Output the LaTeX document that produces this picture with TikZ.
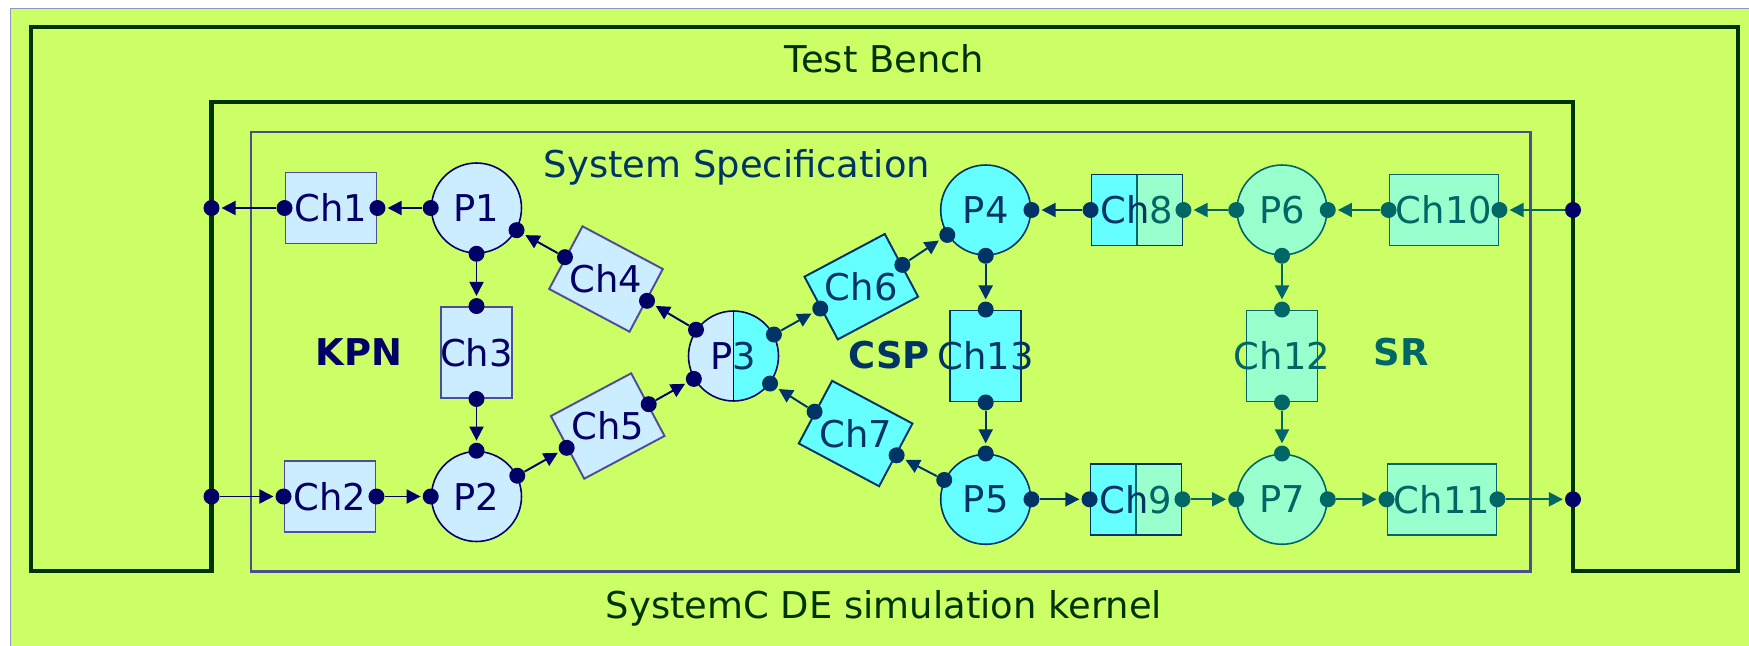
\documentclass[tikz,border=0pt]{standalone}
\usepackage{fontspec}
\setmainfont{DejaVu Sans}
\usetikzlibrary{arrows.meta}
\definecolor{benchlime}{HTML}{CCFF66}
\definecolor{tbgreen}{HTML}{003300}
\definecolor{specline}{HTML}{4D4D8F}
\definecolor{kpnfill}{HTML}{CCECFF}
\definecolor{kpnline}{HTML}{000066}
\definecolor{kpnbox}{HTML}{4D4D99}
\definecolor{cspfill}{HTML}{66FFFF}
\definecolor{cspline}{HTML}{003366}
\definecolor{srfill}{HTML}{99FFCC}
\definecolor{srline}{HTML}{006666}
\newcommand{\diafont}{\fontsize{21}{25}\selectfont}

\begin{document}
\begin{tikzpicture}[x=0.02cm, y=-0.02cm,
    every node/.style={font=\diafont},
    kproc/.style={circle, draw=kpnline, fill=kpnfill, text=kpnline, line width=0.9pt, minimum size=1.8cm, inner sep=0},
    cproc/.style={circle, draw=cspline, fill=cspfill, text=cspline, line width=0.9pt, minimum size=1.8cm, inner sep=0},
    sproc/.style={circle, draw=srline, fill=srfill, text=srline, line width=0.9pt, minimum size=1.8cm, inner sep=0},
    kch/.style={rectangle, draw=kpnbox, fill=kpnfill, line width=1.1pt, minimum width=1.82cm, minimum height=1.42cm, inner sep=0, label={[text=kpnline]center:#1}},
    cch/.style={rectangle, draw=cspline, fill=cspfill, line width=1.1pt, minimum width=1.82cm, minimum height=1.42cm, inner sep=0, label={[text=cspline]center:#1}},
    sch/.style={rectangle, draw=srline, fill=srfill, line width=1.1pt, minimum width=1.82cm, minimum height=1.42cm, inner sep=0, label={[text=srline]center:#1}},
    tallbox/.style={minimum width=1.42cm, minimum height=1.82cm},
    widebox/.style={minimum width=2.18cm},
    srhalf/.style={path picture={
        \fill[srfill] (path picture bounding box.north) rectangle (path picture bounding box.south east);
        \draw[srline, line width=1.1pt] (path picture bounding box.north) -- (path picture bounding box.south);}},
    csphalf/.style={path picture={
        \fill[cspfill] (path picture bounding box.north) rectangle (path picture bounding box.south east);
        \draw[kpnline, line width=0.9pt] (path picture bounding box.north) -- (path picture bounding box.south);}},
    kdot/.style={circle, fill=kpnline, minimum size=0.32cm, inner sep=0},
    cdot/.style={circle, fill=cspline, minimum size=0.32cm, inner sep=0},
    sdot/.style={circle, fill=srline, minimum size=0.32cm, inner sep=0},
    kar/.style={draw=kpnline, line width=1.1pt, -{Triangle[length=8pt, width=8pt]}, shorten >=1pt},
    car/.style={draw=cspline, line width=1.1pt, -{Triangle[length=8pt, width=8pt]}, shorten >=1pt},
    sar/.style={draw=srline, line width=1.1pt, -{Triangle[length=8pt, width=8pt]}, shorten >=1pt}]
    \useasboundingbox (0,0) rectangle (1749,646);
    % Background and frames
    \fill[white] (0,0) rectangle (1749,646);
    \filldraw[fill=benchlime, draw=kpnbox!60, line width=0.6pt] (10.7,8.3) rectangle (1752,650);
    \draw[tbgreen, line width=2.3pt] (31,27) -- (1738,27) -- (1738,571) -- (1573,571) -- (1573,102)
        -- (211.5,102) -- (211.5,571) -- (31,571) -- cycle;
    \draw[specline, line width=1.7pt] (251,132) rectangle (1530,571);
    % Titles
    \node[text=tbgreen] (bench) at (884.5,59) {Test Bench};
    \node[text=cspline] (spec) at (737,167) {System Specification};
    \node[text=tbgreen] (kernel) at (884,608) {SystemC DE simulation kernel};
    \node[text=kpnline, font=\diafont\bfseries] (kpn) at (359,352) {KPN};
    \node[text=cspline, font=\diafont\bfseries] (csp) at (889,355) {CSP};
    \node[text=srline, font=\diafont\bfseries] (sr) at (1401,352) {SR};
    % Processes
    \node[kproc] (P1) at (476.5,208) {P1};
    \node[kproc] (P2) at (476.5,496.5) {P2};
    \node[kproc, csphalf] (P3) at (733.5,356) {P\textcolor{cspline}{3}};
    \node[cproc] (P4) at (985.7,210) {P4};
    \node[cproc] (P5) at (985.7,499.3) {P5};
    \node[sproc] (P6) at (1282,210) {P6};
    \node[sproc] (P7) at (1282,499.3) {P7};
    % Channels
    \node[kch=Ch1] (Ch1) at (331,208) {};
    \node[kch=Ch2] (Ch2) at (330,496.5) {};
    \node[kch=Ch3, tallbox] (Ch3) at (476.5,352.5) {};
    \node[kch=Ch4, rotate=-28] (Ch4) at (606,279) {};
    \node[kch=Ch5, rotate=28] (Ch5) at (607.7,426) {};
    \node[cch=Ch6, rotate=28] (Ch6) at (861.3,286.7) {};
    \node[cch=Ch7, rotate=-28] (Ch7) at (855.6,433.5) {};
    \node[cch={Ch\textcolor{srline}{8}}, srhalf] (Ch8) at (1137,210) {};
    \node[cch={Ch\textcolor{srline}{9}}, srhalf] (Ch9) at (1136,499.3) {};
    \node[sch=Ch10, widebox] (Ch10) at (1444,210) {};
    \node[sch=Ch11, widebox] (Ch11) at (1442,499.3) {};
    \node[sch=Ch12, tallbox] (Ch12) at (1282,356) {};
    \node[cch=Ch13, tallbox] (Ch13) at (985.7,356) {};
    % Ports
    \node[kdot] (tbl1) at (211.5,208) {};
    \node[kdot] (tbl2) at (211.5,496.5) {};
    \node[kdot] (tbr1) at (1573,210) {};
    \node[kdot] (tbr2) at (1573,499.3) {};
    \node[kdot] (p1w) at (P1.west) {};
    \node[kdot] (p1s) at (P1.south) {};
    \node[kdot] (p1se) at (P1.-29) {};
    \node[kdot] (p2n) at (P2.north) {};
    \node[kdot] (p2w) at (P2.west) {};
    \node[kdot] (p2ne) at (P2.27) {};
    \node[kdot] (p3nw) at (P3.145) {};
    \node[kdot] (p3sw) at (P3.210) {};
    \node[cdot] (p3ne) at (P3.28) {};
    \node[cdot] (p3se) at (P3.-37) {};
    \node[cdot] (p4e) at (P4.east) {};
    \node[cdot] (p4s) at (P4.south) {};
    \node[cdot] (p4sw) at (P4.213) {};
    \node[cdot] (p5n) at (P5.north) {};
    \node[cdot] (p5e) at (P5.east) {};
    \node[cdot] (p5nw) at (P5.155) {};
    \node[sdot] (p6w) at (P6.west) {};
    \node[sdot] (p6e) at (P6.east) {};
    \node[sdot] (p6s) at (P6.south) {};
    \node[sdot] (p7n) at (P7.north) {};
    \node[sdot] (p7w) at (P7.west) {};
    \node[sdot] (p7e) at (P7.east) {};
    \node[kdot] (ch1w) at (Ch1.west) {};
    \node[kdot] (ch1e) at (Ch1.east) {};
    \node[kdot] (ch2w) at (Ch2.west) {};
    \node[kdot] (ch2e) at (Ch2.east) {};
    \node[kdot] (ch3n) at (Ch3.north) {};
    \node[kdot] (ch3s) at (Ch3.south) {};
    \node[kdot] (ch4w) at (Ch4.west) {};
    \node[kdot] (ch4e) at (Ch4.east) {};
    \node[kdot] (ch5w) at (Ch5.west) {};
    \node[kdot] (ch5e) at (Ch5.east) {};
    \node[cdot] (ch6w) at (Ch6.west) {};
    \node[cdot] (ch6e) at (Ch6.east) {};
    \node[cdot] (ch7w) at (Ch7.west) {};
    \node[cdot] (ch7e) at (Ch7.east) {};
    \node[cdot] (ch8w) at (Ch8.west) {};
    \node[sdot] (ch8e) at (Ch8.east) {};
    \node[cdot] (ch9w) at (Ch9.west) {};
    \node[sdot] (ch9e) at (Ch9.east) {};
    \node[sdot] (ch10w) at (Ch10.west) {};
    \node[sdot] (ch10e) at (Ch10.east) {};
    \node[sdot] (ch11w) at (Ch11.west) {};
    \node[sdot] (ch11e) at (Ch11.east) {};
    \node[sdot] (ch12n) at (Ch12.north) {};
    \node[sdot] (ch12s) at (Ch12.south) {};
    \node[cdot] (ch13n) at (Ch13.north) {};
    \node[cdot] (ch13s) at (Ch13.south) {};
    % KPN connections
    \draw[kar] (p1w) -- (ch1e);
    \draw[kar] (ch1w) -- (tbl1);
    \draw[kar] (p1s) -- (ch3n);
    \draw[kar] (ch3s) -- (p2n);
    \draw[kar] (tbl2) -- (ch2w);
    \draw[kar] (ch2e) -- (p2w);
    \draw[kar] (p2ne) -- (ch5w);
    \draw[kar] (ch5e) -- (p3sw);
    \draw[kar] (p3nw) -- (ch4e);
    \draw[kar] (ch4w) -- (p1se);
    % CSP connections
    \draw[car] (p3ne) -- (ch6w);
    \draw[car] (ch6e) -- (p4sw);
    \draw[car] (p4s) -- (ch13n);
    \draw[car] (ch13s) -- (p5n);
    \draw[car] (p5nw) -- (ch7e);
    \draw[car] (ch7w) -- (p3se);
    \draw[car] (ch8w) -- (p4e);
    \draw[car] (p5e) -- (ch9w);
    % SR connections
    \draw[sar] (p6w) -- (ch8e);
    \draw[sar] (tbr1) -- (ch10e);
    \draw[sar] (ch10w) -- (p6e);
    \draw[sar] (p6s) -- (ch12n);
    \draw[sar] (ch12s) -- (p7n);
    \draw[sar] (ch9e) -- (p7w);
    \draw[sar] (p7e) -- (ch11w);
    \draw[sar] (ch11e) -- (tbr2);
\end{tikzpicture}
\end{document}
